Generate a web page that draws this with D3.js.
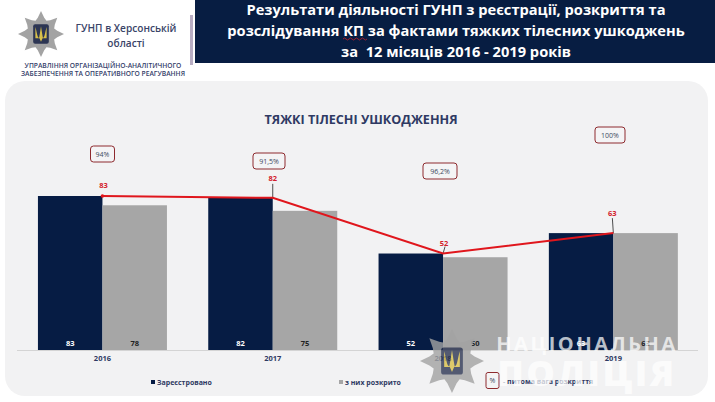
<!DOCTYPE html>
<html><head><meta charset="utf-8">
<script src="https://cdn.jsdelivr.net/npm/d3@7"></script>
<style>html,body{margin:0;padding:0;background:#fff;overflow:hidden}svg{display:block}text{font-family:"Open Sans",sans-serif;white-space:pre}</style>
</head><body><svg id="c" width="715" height="402"></svg>
<script>
const years=["2016","2017","2018","2019"];
const registered=[83,82,52,63];
const solved=[78,75,50,63];
const shares=["94%","91,5%","96,2%","100%"];
const shareCenterY=[154,161,171,135];
const headerLines=["Результати діяльності ГУНП з реєстрації, розкриття та","розслідування КП за фактами тяжких тілесних ушкоджень","за  12 місяців 2016 - 2019 років"];
const chartTitle="ТЯЖКІ ТІЛЕСНІ УШКОДЖЕННЯ";
const NAVY="#061c44",GREY="#a6a6a6",RED="#e0161c",BOX="#8e2a2e",INK="#2f3a63";
const svg=d3.select("#c");

// panel + header
svg.append("rect").attr("x",5).attr("y",81).attr("width",703).attr("height",315).attr("rx",20).attr("fill","#f2f2f3");
svg.append("rect").attr("x",195).attr("y",0).attr("width",520).attr("height",63).attr("fill","#071d42");
svg.append("rect").attr("x",190).attr("y",15).attr("width",3).attr("height",50).attr("fill","#b9aec4");
headerLines.forEach((t,i)=>svg.append("text").attr("x",456).attr("y",[15,36,57][i]).attr("text-anchor","middle")
  .attr("fill","#fff").attr("font-size",14.65).attr("font-weight",700).text(t));
svg.append("path").attr("d","M343 39q1.5 -2 3 0t3 0t3 0t3 0t3 0t3 0t3 0t3 0").attr("fill","none").attr("stroke","#c2202a").attr("stroke-width",.8);

// badge
function badge(cx,cy,r,op){
  const g=svg.append("g").attr("transform",`translate(${cx},${cy})`).attr("opacity",op);
  const pts=d3.range(32).map(i=>[i*Math.PI/16,i%4===0?r:(i%2===0?r*0.62:r*0.72)]);
  g.append("path").attr("d",d3.lineRadial().curve(d3.curveLinearClosed)(pts)).attr("fill","#a3a3a3");
  const s=r*0.34;
  g.append("rect").attr("x",-s).attr("y",-s*1.25).attr("width",2*s).attr("height",2.5*s).attr("rx",s*.25).attr("fill","#2c3553");
  const tr=`M${-s*.72} ${-s*.9}C${-s*.5} ${-s*.2} ${-s*.5} ${s*.4} ${-s*.25} ${s*.5}L${-s*.14} ${-s*.1}L0 ${-s}L${s*.14} ${-s*.1}L${s*.25} ${s*.5}C${s*.5} ${s*.4} ${s*.5} ${-s*.2} ${s*.72} ${-s*.9}V${s*.55}H${s*.2}L0 ${s}L${-s*.2} ${s*.55}H${-s*.72}Z`;
  g.append("path").attr("d",tr).attr("fill","#d8c04a");
}
badge(41,34,23,1);
svg.append("text").attr("x",126).attr("y",32).attr("text-anchor","middle").attr("font-size",10.1).attr("font-weight",600).attr("fill","#3a4468").text("ГУНП в Херсонській");
svg.append("text").attr("x",126).attr("y",47).attr("text-anchor","middle").attr("font-size",10.1).attr("font-weight",600).attr("fill","#3a4468").text("області");
svg.append("text").attr("x",103).attr("y",68).attr("text-anchor","middle").attr("font-size",6.7).attr("font-weight",600).attr("fill","#34406a").text("УПРАВЛІННЯ ОРГАНІЗАЦІЙНО-АНАЛІТИЧНОГО");
svg.append("text").attr("x",103).attr("y",76).attr("text-anchor","middle").attr("font-size",6.7).attr("font-weight",600).attr("fill","#34406a").text("ЗАБЕЗПЕЧЕННЯ ТА ОПЕРАТИВНОГО РЕАГУВАННЯ");

// chart
const x=d3.scaleBand().domain(years).range([17.3,698.5]).paddingInner(0.2425).paddingOuter(0.1212);
const inner=d3.scaleBand().domain([0,1]).range([0,x.bandwidth()]);
const y=d3.scaleLinear().domain([0,83]).range([350,196]);
svg.append("text").attr("x",361).attr("y",124).attr("text-anchor","middle").attr("font-size",12.6).attr("font-weight",700).attr("fill",INK).text(chartTitle);
svg.append("line").attr("x1",17).attr("x2",698).attr("y1",350.5).attr("y2",350.5).attr("stroke","#d4d4d4");
[[registered,NAVY,"#fff"],[solved,GREY,"#222"]].forEach(([vals,col,tc],k)=>{
  svg.append("g").selectAll("rect").data(vals).join("rect")
    .attr("x",(d,i)=>x(years[i])+inner(k)).attr("width",inner.bandwidth())
    .attr("y",d=>y(d)).attr("height",d=>y(0)-y(d)).attr("fill",col);
  svg.append("g").selectAll("text").data(vals).join("text")
    .attr("x",(d,i)=>x(years[i])+inner(k)+inner.bandwidth()/2).attr("y",346)
    .attr("text-anchor","middle").attr("font-size",7.5).attr("font-weight",700).attr("fill",tc).text(d=>d);
});
const cx=i=>x(years[i])+x.bandwidth()/2;
const axis=d3.axisBottom(x).tickSize(0).tickPadding(6);
const ax=svg.append("g").attr("transform","translate(0,350)").call(axis);
ax.select(".domain").remove();
ax.selectAll("text").attr("font-size",7.5).attr("font-weight",700).attr("fill",INK).attr("font-family",'"Open Sans",sans-serif');

// leader ticks
[[1,-14],[2,-7],[3,-15]].forEach(([i,l])=>svg.append("line").attr("x1",cx(i)+(i===2?2:i===3?-1:0)).attr("x2",cx(i)).attr("y1",y(registered[i])+l).attr("y2",y(registered[i])).attr("stroke","#222").attr("stroke-width",.8));
svg.append("path").datum(registered).attr("fill","none").attr("stroke",RED).attr("stroke-width",2)
  .attr("d",d3.line().x((d,i)=>cx(i)).y(d=>y(d)));
svg.append("circle").attr("cx",cx(0)).attr("cy",y(83)).attr("r",1.8).attr("fill",RED);
svg.append("g").selectAll("text").data(registered).join("text")
  .attr("x",(d,i)=>cx(i)+[1,0,1,-1][i]).attr("y",(d,i)=>[188,181,246,216][i])
  .attr("text-anchor","middle").attr("font-size",7.5).attr("font-weight",700).attr("fill","#d2202a").text(d=>d);
// share boxes
const bw=[24,32,34,30];
shares.forEach((s,i)=>{
  const bx=[102.5,269,440,610][i];
  svg.append("rect").attr("x",bx-bw[i]/2).attr("y",shareCenterY[i]-8).attr("width",bw[i]).attr("height",16).attr("rx",3)
    .attr("fill","#f4f4f5").attr("stroke",BOX).attr("stroke-width",1);
  svg.append("text").attr("x",bx).attr("y",shareCenterY[i]+2.5).attr("text-anchor","middle").attr("font-size",7).attr("fill","#3d4a60").text(s);
});
// legend
svg.append("rect").attr("x",151).attr("y",380).attr("width",4).attr("height",4).attr("fill",NAVY);
svg.append("text").attr("x",157).attr("y",384.5).attr("font-size",7).attr("font-weight",700).attr("fill",INK).text("Зареєстровано");
svg.append("rect").attr("x",339).attr("y",380).attr("width",4).attr("height",4).attr("fill",GREY);
svg.append("text").attr("x",345).attr("y",384.5).attr("font-size",7).attr("font-weight",700).attr("fill",INK).text("з них розкрито");
svg.append("rect").attr("x",486).attr("y",372.5).attr("width",13).attr("height",16).attr("rx",2).attr("fill","#f4f4f5").attr("stroke",BOX);
svg.append("text").attr("x",492.5).attr("y",383).attr("text-anchor","middle").attr("font-size",7).attr("fill","#3d4a60").text("%");
svg.append("text").attr("x",503).attr("y",384).attr("font-size",7).attr("font-weight",700).attr("fill",INK).text("- питома вага розкриття");

// watermark
badge(452,361,32,.8);
svg.append("text").attr("x",587).attr("y",351).attr("text-anchor","middle").attr("font-size",20).attr("font-weight",700).attr("letter-spacing",2.6).attr("fill","#fff").attr("fill-opacity",.72).text("НАЦІОНАЛЬНА");
svg.append("text").attr("x",587).attr("y",386).attr("text-anchor","middle").attr("font-size",36).attr("font-weight",800).attr("letter-spacing",2.5).attr("fill","#fff").attr("fill-opacity",.72).text("ПОЛІЦІЯ");
</script></body></html>
